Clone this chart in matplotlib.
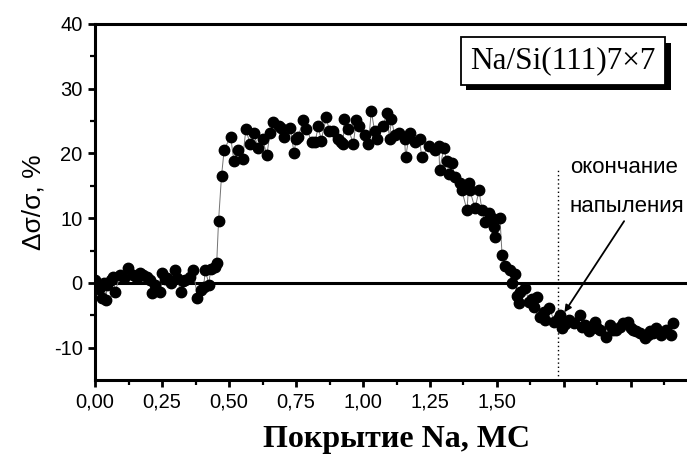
import matplotlib
matplotlib.use("Agg")
import matplotlib.pyplot as plt
import matplotlib.patheffects as pe
from matplotlib.ticker import FixedLocator, FixedFormatter

# Coverage (ML) and relative conductivity change (%)
x_low = [0.000, 0.015, 0.026, 0.034, 0.041, 0.045, 0.060, 0.067, 0.075, 0.094,
         0.110, 0.124, 0.142, 0.155, 0.169, 0.180, 0.195, 0.206, 0.212, 0.225,
         0.244, 0.251, 0.262, 0.270, 0.285, 0.300, 0.307, 0.319, 0.330, 0.337,
         0.356, 0.367, 0.382, 0.394, 0.405, 0.412, 0.425, 0.431, 0.446, 0.454]
y_low = [0.5, -1.0, -2.3, 0.0, -2.6, -0.3, 0.5, 0.9, -1.4, 1.2,
         0.8, 2.3, 1.2, 0.8, 1.5, 1.2, 0.9, 0.5, -1.5, -0.3,
         -1.4, 1.5, 0.6, 0.8, 0.0, 2.0, 0.8, -1.4, 0.3, 0.5,
         0.9, 2.0, -2.3, -1.1, -0.6, 2.0, -0.3, 2.2, 2.5, 3.0]

x_rise = [0.461, 0.472, 0.482]
y_rise = [9.6, 16.5, 20.6]

x_plateau = [0.506, 0.518, 0.533, 0.551, 0.563, 0.578, 0.593, 0.608, 0.626, 0.641,
             0.653, 0.664, 0.686, 0.694, 0.705, 0.728, 0.743, 0.750, 0.758, 0.776,
             0.788, 0.810, 0.821, 0.833, 0.844, 0.863, 0.874, 0.889, 0.908, 0.919,
             0.926, 0.930, 0.945, 0.964, 0.975, 0.986, 1.009, 1.020, 1.031, 1.043,
             1.054, 1.076, 1.088, 1.099, 1.106, 1.118, 1.133, 1.155, 1.159, 1.174,
             1.193, 1.211, 1.219, 1.245, 1.268, 1.283, 1.286, 1.301]
y_plateau = [22.6, 18.9, 20.5, 19.1, 23.8, 21.5, 23.1, 20.9, 22.2, 19.7,
             23.1, 24.8, 24.3, 24.0, 22.6, 24.0, 20.0, 22.3, 22.5, 25.1,
             23.8, 21.8, 21.7, 24.2, 22.0, 25.6, 23.5, 23.5, 22.3, 21.7,
             21.5, 25.4, 23.8, 21.5, 25.1, 24.2, 22.8, 21.4, 26.6, 23.5,
             22.3, 24.2, 26.3, 22.3, 25.4, 22.8, 23.1, 22.3, 19.4, 23.2,
             21.7, 22.3, 19.4, 21.2, 20.5, 21.2, 17.4, 20.8]

x_fall = [1.313, 1.320, 1.331, 1.343, 1.361, 1.369, 1.388, 1.395, 1.399, 1.418,
          1.433, 1.444, 1.455, 1.470, 1.481, 1.489, 1.493, 1.511, 1.519, 1.530,
          1.549, 1.556, 1.568, 1.575, 1.583, 1.586, 1.605, 1.620, 1.631, 1.639,
          1.650, 1.661, 1.676, 1.680, 1.695]
y_fall = [18.9, 16.9, 18.6, 16.3, 15.4, 14.3, 11.2, 15.4, 14.3, 11.5,
          14.3, 11.2, 9.4, 10.8, 10.0, 8.6, 7.1, 10.0, 4.3, 2.6,
          2.0, 0.0, 1.3, -2.0, -3.1, -1.4, -0.8, -3.0, -2.5, -3.7,
          -2.2, -5.2, -4.5, -5.7, -3.8]

x_tail = [1.714, 1.729, 1.736, 1.744, 1.755, 1.770, 1.789, 1.811, 1.819, 1.830,
          1.845, 1.864, 1.875, 1.886, 1.905, 1.920, 1.931, 1.943, 1.958, 1.969,
          1.988, 1.999, 2.006, 2.018, 2.033, 2.051, 2.063, 2.070, 2.081, 2.093,
          2.104, 2.111, 2.130, 2.149, 2.156]
y_tail = [-6.0, -5.5, -4.9, -6.9, -6.3, -5.7, -6.2, -4.9, -6.8, -6.5,
          -7.5, -6.0, -7.0, -7.2, -8.3, -6.5, -7.3, -7.2, -6.8, -6.2,
          -6.0, -7.0, -7.2, -7.4, -7.7, -8.5, -8.0, -7.5, -7.8, -6.9,
          -7.6, -8.0, -7.2, -8.0, -6.2]

x_all = x_low + x_rise + x_plateau + x_fall + x_tail
y_all = y_low + y_rise + y_plateau + y_fall + y_tail

deposition_end = 1.728

major_x = [0.0, 0.25, 0.5, 0.75, 1.0, 1.25, 1.5, 1.75, 2.0]
major_x_labels = ['0,00', '0,25', '0,50', '0,75', '1,00', '1,25', '1,50', '', '']
minor_x = [0.125, 0.375, 0.625, 0.875, 1.125, 1.375, 1.625, 1.875, 2.125]

plt.rcParams['font.family'] = ['Liberation Sans', 'DejaVu Sans']
plt.rcParams['axes.unicode_minus'] = False

fig = plt.figure(figsize=(6.87, 4.58), dpi=100)
# right edge of the frame lies outside the picture, as in the original
ax = fig.add_axes([0.1383, 0.1703, 0.8777, 0.7773])

ax.plot(x_all, y_all, color='0.45', lw=0.7, zorder=2)
ax.plot(x_all, y_all, 'o', color='black', ms=7.5, zorder=3)

ax.axhline(0, color='black', lw=2.2, zorder=1)
ax.axvline(deposition_end, ymin=0.0, ymax=0.589, color='black', lw=1.0,
           linestyle=(0, (1, 2)), zorder=1)

ax.set_xlim(0, 2.25)
ax.set_ylim(-15, 40)

ax.xaxis.set_major_locator(FixedLocator(major_x))
ax.xaxis.set_major_formatter(FixedFormatter(major_x_labels))
ax.xaxis.set_minor_locator(FixedLocator(minor_x))
ax.set_yticks([-10, 0, 10, 20, 30, 40])
ax.set_yticks([-5, 5, 15, 25, 35], minor=True)

for s in ax.spines.values():
    s.set_linewidth(2.2)
ax.tick_params(which='major', direction='out', length=5, width=2,
               labelsize=14.5, pad=4)
ax.tick_params(which='minor', direction='out', length=3.5, width=1.6)

ax.set_ylabel('Δσ/σ, %', fontsize=19, labelpad=6)
ax.set_xlabel('Покрытие Na, МС', fontsize=23, fontweight='bold',
              family=['Liberation Serif', 'DejaVu Serif'], labelpad=10)

# label box with a drop shadow
label = ax.text(1.400, 34.3, 'Na/Si(111)7×7', fontsize=22.5,
                family=['Liberation Serif', 'DejaVu Serif'], ha='left', va='center',
                bbox=dict(boxstyle='square,pad=0.3', fc='white', ec='black', lw=1.3),
                zorder=6)
label.get_bbox_patch().set_path_effects([
    pe.SimplePatchShadow(offset=(4, -4), shadow_rgbFace='black', alpha=1.0),
    pe.Normal()])

ax.text(1.772, 17.8, 'окончание', fontsize=16, ha='left', va='center')
ax.text(1.772, 11.8, 'напыления', fontsize=16, ha='left', va='center')
ax.annotate('', xy=(1.746, -4.9), xytext=(1.98, 9.9),
            arrowprops=dict(arrowstyle='-|>', color='black', lw=1.3,
                            mutation_scale=10))

fig.savefig('out.png', dpi=100)
